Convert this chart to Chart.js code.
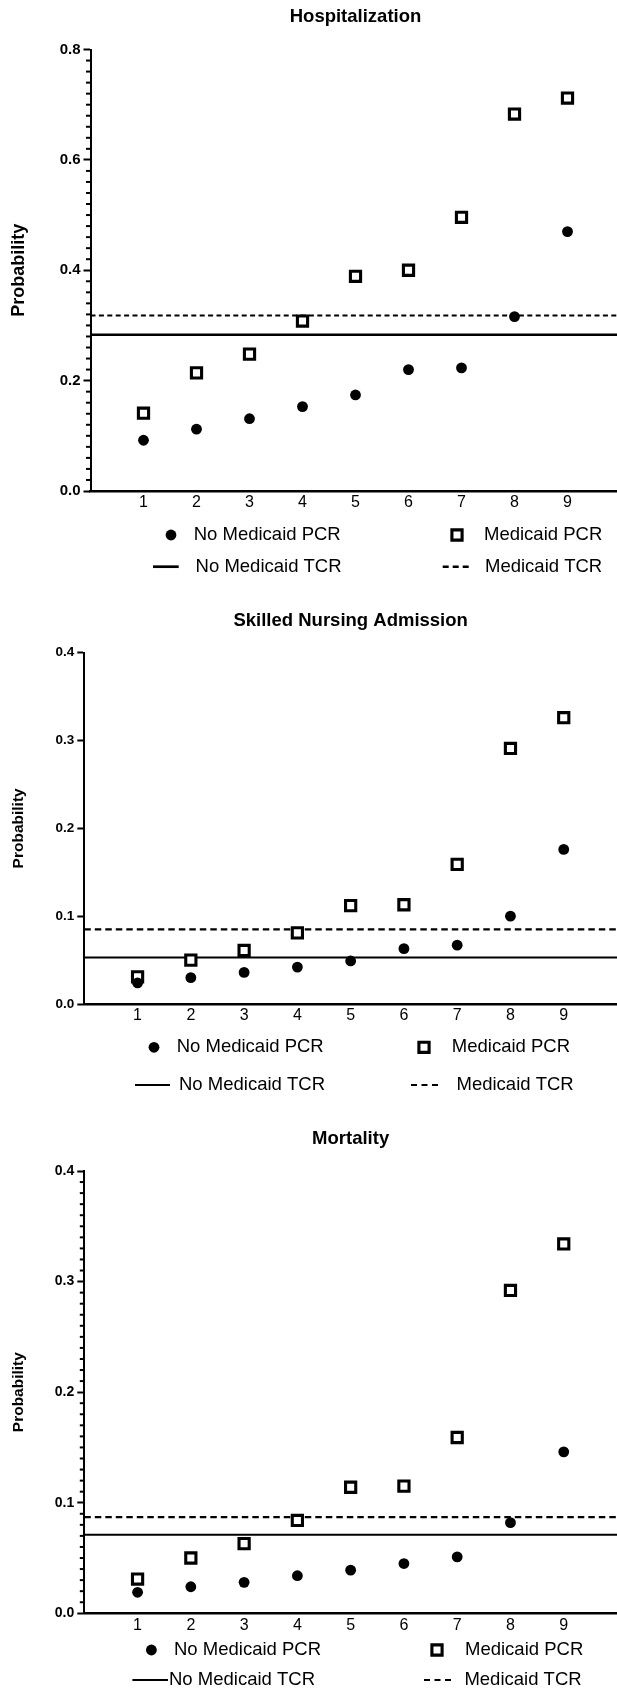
<!DOCTYPE html>
<html><head><meta charset="utf-8">
<script src="https://cdn.jsdelivr.net/npm/chart.js@4/dist/chart.umd.min.js"></script>
<style>
html,body{margin:0;padding:0;background:#fff;overflow:hidden;width:617px;height:1689px;position:relative;}
.wrap{position:absolute;left:0;}
canvas{display:block;}
</style></head><body>
<div class="wrap" style="top:0px"><canvas id="c1"></canvas></div>
<div class="wrap" style="top:600px"><canvas id="c2"></canvas></div>
<div class="wrap" style="top:1110px"><canvas id="c3"></canvas></div>
<script>
// ---------------- data ----------------
const categories = [1, 2, 3, 4, 5, 6, 7, 8, 9];
const seriesLabels = ['No Medicaid PCR', 'Medicaid PCR', 'No Medicaid TCR', 'Medicaid TCR'];
const chartTitles = ['Hospitalization', 'Skilled Nursing Admission', 'Mortality'];
const yAxisTitle = 'Probability';

const hospNoMedicaidPCR = [0.092, 0.112, 0.131, 0.153, 0.174, 0.220, 0.223, 0.316, 0.470];
const hospMedicaidPCR   = [0.141, 0.214, 0.248, 0.308, 0.389, 0.400, 0.496, 0.683, 0.712];
const hospNoMedicaidTCR = 0.283;
const hospMedicaidTCR   = 0.318;

const snfNoMedicaidPCR = [0.024, 0.030, 0.036, 0.042, 0.049, 0.063, 0.067, 0.100, 0.176];
const snfMedicaidPCR   = [0.031, 0.050, 0.061, 0.081, 0.112, 0.113, 0.159, 0.291, 0.326];
const snfNoMedicaidTCR = 0.053;
const snfMedicaidTCR   = 0.085;

const mortNoMedicaidPCR = [0.019, 0.024, 0.028, 0.034, 0.039, 0.045, 0.051, 0.082, 0.146];
const mortMedicaidPCR   = [0.031, 0.050, 0.063, 0.084, 0.114, 0.115, 0.159, 0.292, 0.334];
const mortNoMedicaidTCR = 0.071;
const mortMedicaidTCR   = 0.087;

const hospYTicks = [0.0, 0.2, 0.4, 0.6, 0.8];
const snfYTicks  = [0.0, 0.1, 0.2, 0.3, 0.4];
const mortYTicks = [0.0, 0.1, 0.2, 0.3, 0.4];
const xRange = [0, 10];

// ---------------- drawing ----------------
const FONT = "'Liberation Sans', Arial, Helvetica, sans-serif";

const titlePlugin = {
  id: 'panelTitle',
  afterDraw(chart) {
    const o = chart.options.plugins.panelTitle;
    const ctx = chart.ctx, a = chart.chartArea;
    ctx.save();
    ctx.fillStyle = '#000';
    ctx.font = 'bold ' + o.size + 'px ' + FONT;
    ctx.textAlign = 'center';
    ctx.textBaseline = 'middle';
    ctx.fillText(o.text, (a.left + a.right) / 2, o.y);
    ctx.restore();
  }
};

const minorTickPlugin = {
  id: 'minorTicks',
  afterDraw(chart) {
    const o = chart.options.plugins.minorTicks;
    if (!o.step) return;
    const ys = chart.scales.y, ctx = chart.ctx;
    const x = chart.chartArea.left;
    ctx.save();
    ctx.strokeStyle = '#000';
    ctx.lineWidth = 2;
    const n = Math.round((ys.max - ys.min) / o.step);
    for (let i = 0; i <= n; i++) {
      const v = ys.min + i * o.step;
      if (Math.abs(v / o.major - Math.round(v / o.major)) < 1e-6) continue;
      const py = ys.getPixelForValue(v);
      ctx.beginPath();
      ctx.moveTo(x - o.len, py);
      ctx.lineTo(x, py);
      ctx.stroke();
    }
    ctx.restore();
  }
};

const legendPlugin = {
  id: 'gridLegend',
  afterDraw(chart) {
    const o = chart.options.plugins.gridLegend;
    const ctx = chart.ctx;
    const ds = chart.data.datasets;
    ctx.save();
    ctx.font = o.size + 'px ' + FONT;
    ctx.textBaseline = 'middle';
    ctx.textAlign = 'left';
    o.items.forEach(it => {
      const d = ds[it.ds];
      const y = o.rows[it.row];
      ctx.strokeStyle = '#000';
      ctx.fillStyle = '#000';
      if (it.kind === 'point') {
        ctx.fillStyle = d.backgroundColor;
        ctx.strokeStyle = d.borderColor;
        ctx.lineWidth = d.borderWidth;
        ctx.beginPath();
        if (d.pointStyle === 'circle') {
          ctx.arc(it.cx, y, d.pointRadius, 0, Math.PI * 2);
          ctx.fill();
        } else {
          const s = Math.SQRT1_2 * d.pointRadius;
          ctx.rect(it.cx - s, y - s, 2 * s, 2 * s);
          ctx.fill();
          ctx.stroke();
        }
      } else {
        ctx.lineWidth = it.w;
        ctx.setLineDash(d.borderDash ? it.dash : []);
        ctx.beginPath();
        ctx.moveTo(it.x1, y);
        ctx.lineTo(it.x2, y);
        ctx.stroke();
        ctx.setLineDash([]);
      }
      ctx.fillStyle = '#000';
      ctx.fillText(d.label, it.tx, y);
    });
    ctx.restore();
  }
};

function makeChart(id, cfg) {
  const canvas = document.getElementById(id);
  canvas.width = cfg.W; canvas.height = cfg.H;
  canvas.style.width = cfg.W + 'px'; canvas.style.height = cfg.H + 'px';
  const A = cfg.area;
  const pts = (vals) => categories.map((c, i) => ({ x: c, y: vals[i] }));
  const hline = (v) => [{ x: xRange[0], y: v }, { x: xRange[1], y: v }];
  return new Chart(canvas, {
    type: 'scatter',
    data: {
      datasets: [
        { label: seriesLabels[0], data: pts(cfg.noPCR), pointStyle: 'circle', pointRadius: 5.4,
          backgroundColor: '#000', borderColor: '#000', borderWidth: 0, order: 0 },
        { label: seriesLabels[1], data: pts(cfg.medPCR), pointStyle: 'rect', pointRadius: 7.2,
          backgroundColor: '#fff', borderColor: '#000', borderWidth: 3.1, order: 1 },
        { type: 'line', label: seriesLabels[2], data: hline(cfg.noTCR), borderColor: '#000',
          borderWidth: cfg.solidW, pointRadius: 0, fill: false, order: 2 },
        { type: 'line', label: seriesLabels[3], data: hline(cfg.medTCR), borderColor: '#000',
          borderWidth: cfg.dashW, borderDash: cfg.dash, pointRadius: 0, fill: false, order: 3 }
      ]
    },
    options: {
      responsive: false,
      animation: false,
      devicePixelRatio: 1,
      events: [],
      layout: { autoPadding: false, padding: { top: A.top, left: 0, right: cfg.W - A.right, bottom: 0 } },
      plugins: {
        legend: { display: false },
        tooltip: { enabled: false },
        panelTitle: { text: cfg.title, y: cfg.titleY, size: 18.5 },
        minorTicks: { step: cfg.minorStep, major: cfg.yTicks[1] - cfg.yTicks[0], len: 4.5 },
        gridLegend: { rows: cfg.legendRows, items: cfg.legendItems, size: 18.5 }
      },
      scales: {
        x: {
          type: 'linear', min: xRange[0], max: xRange[1],
          afterFit: (s) => { s.height = cfg.H - A.bottom; },
          afterBuildTicks: (s) => { s.ticks = categories.map(v => ({ value: v })); },
          grid: { display: false, drawTicks: false },
          border: { display: true, color: '#000', width: 2.5 },
          ticks: { color: '#000', padding: cfg.xPad, maxRotation: 0, autoSkip: false,
            font: { family: FONT, size: 16 }, callback: (v) => String(v) }
        },
        y: {
          type: 'linear',
          min: cfg.yTicks[0], max: cfg.yTicks[cfg.yTicks.length - 1],
          afterFit: (s) => { s.width = A.left; },
          afterBuildTicks: (s) => { s.ticks = cfg.yTicks.map(v => ({ value: v })); },
          grid: { display: true, drawOnChartArea: false, drawTicks: true, tickLength: 7,
            tickColor: '#000', tickWidth: 2 },
          border: { display: true, color: '#000', width: 2 },
          ticks: { color: '#000', padding: 3, autoSkip: false,
            font: { family: FONT, size: cfg.yTickSize, weight: 'bold' },
            callback: (v) => Number(v).toFixed(1) },
          title: { display: true, text: yAxisTitle, color: '#000',
            font: { family: FONT, size: cfg.yTitleSize, weight: 'bold' },
            padding: { top: cfg.yTitlePad, bottom: 0 } }
        }
      }
    },
    plugins: [titlePlugin, minorTickPlugin, legendPlugin]
  });
}

makeChart('c1', {
  W: 622, H: 600, area: { left: 90.5, top: 49.5, right: 620.5, bottom: 491 },
  title: chartTitles[0], titleY: 17, xPad: 2,
  noPCR: hospNoMedicaidPCR, medPCR: hospMedicaidPCR, noTCR: hospNoMedicaidTCR, medTCR: hospMedicaidTCR,
  yTicks: hospYTicks, minorStep: 0.02, yTickSize: 15, yTitleSize: 18, yTitlePad: 8.7,
  solidW: 2.5, dashW: 2.2, dash: [5, 3.4],
  legendRows: [535, 566.7],
  legendItems: [
    { ds: 0, row: 0, kind: 'point', cx: 171, tx: 193.7 },
    { ds: 1, row: 0, kind: 'point', cx: 457, tx: 484 },
    { ds: 2, row: 1, kind: 'line', x1: 153, x2: 178.7, w: 2.7, tx: 195.6 },
    { ds: 3, row: 1, kind: 'line', x1: 442.7, x2: 469.6, w: 2.5, dash: [6, 4], tx: 485 }
  ]
});

makeChart('c2', {
  W: 617, H: 510, area: { left: 84.3, top: 52.7, right: 617, bottom: 404 },
  title: chartTitles[1], titleY: 20.7, xPad: 2,
  noPCR: snfNoMedicaidPCR, medPCR: snfMedicaidPCR, noTCR: snfNoMedicaidTCR, medTCR: snfMedicaidTCR,
  yTicks: snfYTicks, minorStep: 0, yTickSize: 13.5, yTitleSize: 15.5, yTitlePad: 9.2,
  solidW: 2, dashW: 2.2, dash: [6.5, 4],
  legendRows: [447.3, 485],
  legendItems: [
    { ds: 0, row: 0, kind: 'point', cx: 154, tx: 176.7 },
    { ds: 1, row: 0, kind: 'point', cx: 424, tx: 451.8 },
    { ds: 2, row: 1, kind: 'line', x1: 135, x2: 170, w: 2, tx: 179 },
    { ds: 3, row: 1, kind: 'line', x1: 411, x2: 442, w: 2.2, dash: [6, 4.5], tx: 456.5 }
  ]
});

makeChart('c3', {
  W: 617, H: 579, area: { left: 84.3, top: 61, right: 617, bottom: 503.3 },
  title: chartTitles[2], titleY: 29.3, xPad: 3,
  noPCR: mortNoMedicaidPCR, medPCR: mortMedicaidPCR, noTCR: mortNoMedicaidTCR, medTCR: mortMedicaidTCR,
  yTicks: mortYTicks, minorStep: 0.01, yTickSize: 14, yTitleSize: 15.5, yTitlePad: 9.2,
  solidW: 2, dashW: 2.2, dash: [6.5, 4],
  legendRows: [540, 570],
  legendItems: [
    { ds: 0, row: 0, kind: 'point', cx: 151.4, tx: 174 },
    { ds: 1, row: 0, kind: 'point', cx: 437, tx: 465 },
    { ds: 2, row: 1, kind: 'line', x1: 132.4, x2: 168, w: 2, tx: 169 },
    { ds: 3, row: 1, kind: 'line', x1: 424, x2: 454.5, w: 2.2, dash: [6, 4.5], tx: 464.4 }
  ]
});
</script>
</body></html>
